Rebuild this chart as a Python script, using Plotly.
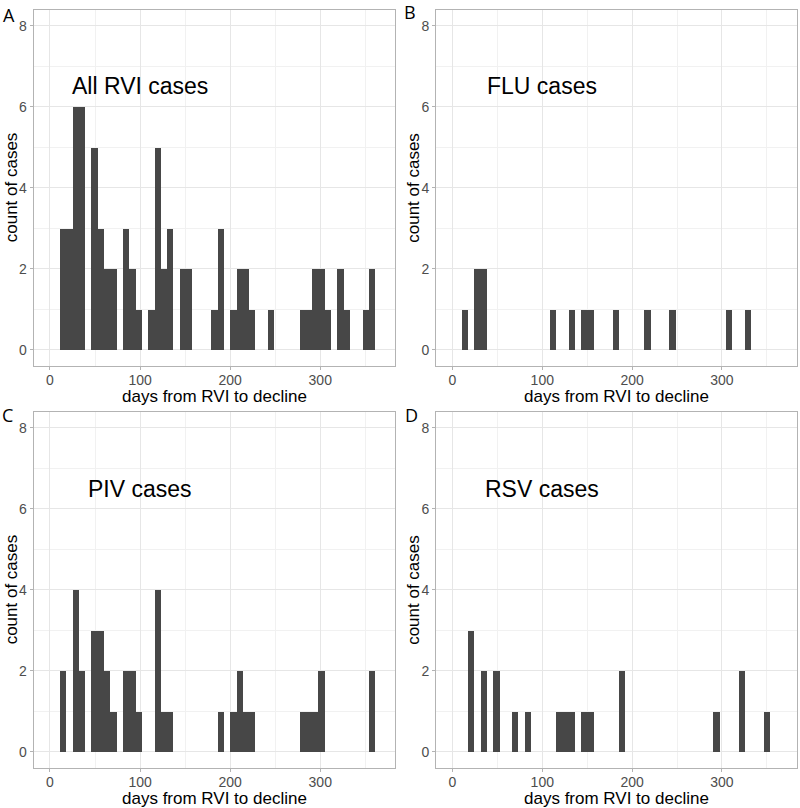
import plotly.graph_objects as go

# Bin centres (days, binwidth 7) and counts for each panel
bins_all = [14, 21, 28, 35, 49, 56, 63, 70, 84, 91, 98, 112, 119, 126, 133, 147, 154,
            182, 189, 203, 210, 217, 224, 245, 280, 287, 294, 301, 308, 322, 329, 350, 357]
counts_all = [3, 3, 6, 6, 5, 3, 2, 2, 3, 2, 1, 1, 5, 2, 3, 2, 2,
              1, 3, 1, 2, 2, 1, 1, 1, 1, 2, 2, 1, 2, 1, 1, 2]

bins_flu = [14, 28, 35, 112, 133, 147, 154, 182, 217, 245, 308, 329]
counts_flu = [1, 2, 2, 1, 1, 1, 1, 1, 1, 1, 1, 1]

bins_piv = [14, 28, 35, 49, 56, 63, 70, 84, 91, 98, 119, 126, 133,
            189, 203, 210, 217, 224, 280, 287, 294, 301, 357]
counts_piv = [2, 4, 2, 3, 3, 2, 1, 2, 2, 1, 4, 1, 1,
              1, 1, 2, 1, 1, 1, 1, 1, 2, 2]

bins_rsv = [21, 35, 49, 70, 84, 119, 126, 133, 147, 154, 189, 294, 322, 350]
counts_rsv = [3, 2, 2, 1, 1, 1, 1, 1, 1, 1, 2, 1, 2, 1]

panel_titles = ["All RVI cases", "FLU cases", "PIV cases", "RSV cases"]
panel_letters = ["A", "B", "C", "D"]
x_ticks = [0, 100, 200, 300]
y_ticks = [0, 2, 4, 6, 8]
x_title = "days from RVI to decline"
y_title = "count of cases"
bin_width = 7

W, H = 800, 808
BAR = "#474747"
BORDER = "#b3b3b3"
GRID = "#e6e6e6"
MINOR = "#f1f1f1"
TICKFONT = dict(family="Liberation Sans, Arial", size=14, color="#4d4d4d")
TITLEFONT = dict(family="Liberation Sans, Arial", size=17, color="#000000")

# plot-area boxes in pixels: (left, top, right, bottom)
boxes = [(33.5, 9.5, 395, 366), (436, 9.5, 796.5, 366),
         (33.5, 411.7, 395, 768), (436, 411.7, 796.5, 768)]
letter_pos = [(9, 15), (410, 12), (7.5, 415), (411.5, 415)]

data = [(bins_all, counts_all), (bins_flu, counts_flu),
        (bins_piv, counts_piv), (bins_rsv, counts_rsv)]

fig = go.Figure()
layout = dict(width=W, height=H, margin=dict(l=0, r=0, t=0, b=0),
              paper_bgcolor="white", plot_bgcolor="white", showlegend=False,
              bargap=0, annotations=[])

for i, ((bx, cy), box) in enumerate(zip(data, boxes)):
    n = "" if i == 0 else str(i + 1)
    fig.add_trace(go.Bar(x=bx, y=cy, width=bin_width, marker=dict(color=BAR, line=dict(width=0)),
                         xaxis="x" + n, yaxis="y" + n, hoverinfo="x+y"))
    l, t, r, b = box
    layout["xaxis" + n] = dict(
        domain=[l / W, r / W], anchor="y" + n, range=[-18.3, 383],
        tickmode="array", tickvals=x_ticks, ticks="outside", ticklen=3, tickcolor=BORDER,
        tickfont=TICKFONT, ticklabelstandoff=-2, showgrid=True, gridcolor=GRID, gridwidth=1,
        minor=dict(tickvals=[50, 150, 250, 350], showgrid=True, gridcolor=MINOR, ticklen=0),
        showline=True, mirror=True, linecolor=BORDER, linewidth=1, zeroline=False,
        automargin=False)
    layout["yaxis" + n] = dict(
        domain=[1 - b / H, 1 - t / H], anchor="x" + n, range=[-0.4, 8.4],
        tickmode="array", tickvals=y_ticks, ticks="outside", ticklen=3, tickcolor=BORDER,
        tickfont=TICKFONT, showgrid=True, gridcolor=GRID, gridwidth=1,
        minor=dict(tickvals=[1, 3, 5, 7], showgrid=True, gridcolor=MINOR, ticklen=0),
        showline=True, mirror=True, linecolor=BORDER, linewidth=1, zeroline=False,
        automargin=False)
    # panel label inside plot
    layout["annotations"].append(dict(
        x=100, y=6.5, xref="x" + n, yref="y" + n, text=panel_titles[i], showarrow=False,
        font=dict(family="Liberation Sans, Arial", size=23, color="#000000"),
        xanchor="center", yanchor="middle"))
    # panel letter
    lx, ly = letter_pos[i]
    layout["annotations"].append(dict(
        x=lx / W, y=1 - ly / H, xref="paper", yref="paper", text=panel_letters[i],
        showarrow=False, font=dict(family="Open Sans", size=18, color="#000000"),
        xanchor="center", yanchor="middle"))
    # axis titles
    layout["annotations"].append(dict(
        x=(l + r) / 2 / W, y=1 - (b + 30) / H, xref="paper", yref="paper", text=x_title,
        showarrow=False, font=TITLEFONT, xanchor="center", yanchor="middle"))
    layout["annotations"].append(dict(
        x=(l - 22) / W, y=1 - (t + b) / 2 / H, xref="paper", yref="paper", text=y_title,
        showarrow=False, font=TITLEFONT, textangle=-90, xanchor="center", yanchor="middle"))

fig.update_layout(**layout)
fig.write_html("out.html", config={"displayModeBar": False},
               post_script="document.body.style.margin='0px';document.body.style.overflow='hidden';")
